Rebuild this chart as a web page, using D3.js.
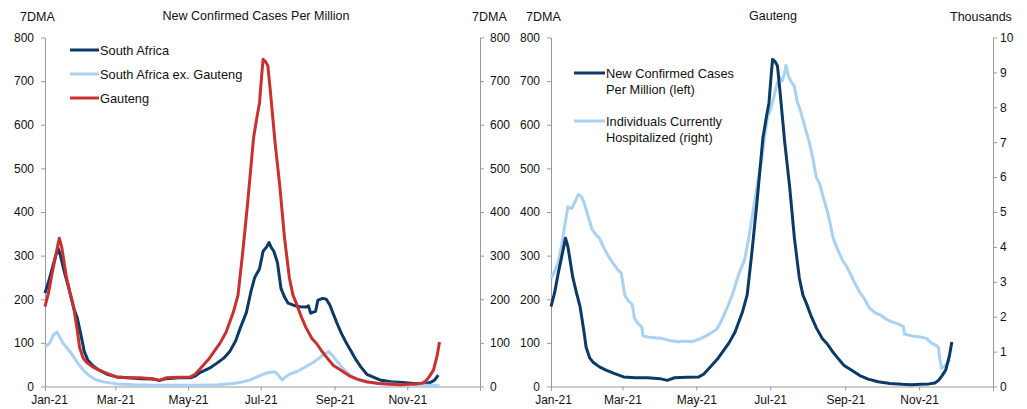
<!DOCTYPE html>
<html><head><meta charset="utf-8">
<script src="https://cdn.jsdelivr.net/npm/d3@7"></script>
<style>
body{margin:0;background:#fff;}
svg text{font-family:"Liberation Sans",Arial,sans-serif;font-size:12px;fill:#111;}
</style></head><body>
<svg id="c" width="1027" height="409"></svg>
<script>
// ---- data (day offset from 2021-01-01, value) ----
const gautengDays = [0,3,6,9,12,14,18,21,24,27,29,32,35,40,45,52,60,70,80,90,96,102,112,122,126,130,138,147,152,158,162,166,170,175,178,180,182,183,185,187,189,190,193,197,201,205,208,211,215,219,224,228,232,236,242,248,255,262,270,280,290,298,305,312,317,320,323,326,329,331];
const gautengCases = [183,215,260,300,340,320,250,215,183,130,90,65,55,45,38,30,22,20,20,18,14,20,21,22,28,40,65,100,125,170,210,310,420,570,620,650,720,750,745,735,680,650,560,460,340,250,210,190,160,135,110,98,82,68,48,38,25,17,11,7,5,4,5,6,8,14,25,38,70,102];

const saDays = [0,3,6,9,11,13,16,20,24,27,30,33,36,40,45,52,60,70,80,90,96,102,112,122,126,130,138,144,150,155,160,164,169,173,176,180,183,186,188,190,192,195,198,201,204,210,214,219,221,223,227,229,233,236,239,245,249,253,257,261,265,270,275,281,290,300,309,315,320,324,327,330];
const saCases = [214,240,270,300,317,300,265,225,180,158,120,80,60,48,38,28,22,20,18,17,14,18,20,20,24,32,42,53,65,80,105,135,170,220,250,270,310,320,330,318,310,285,225,205,191,185,183,182,185,168,172,198,202,200,187,145,120,99,80,61,45,28,22,15,11,9,7,6,7,10,15,26];

const exGpDays = [0,2,4,7,10,12,15,18,21,24,28,32,37,43,50,60,75,90,110,130,145,158,165,172,178,183,188,193,196,199,202,205,212,219,225,230,234,238,241,245,250,255,259,265,270,280,295,310,320,331];
const exGpCases = [91,95,100,118,125,115,100,90,80,68,52,38,25,15,10,6,4,3,3,3,4,7,10,15,22,28,32,34,25,15,22,28,35,46,55,65,74,80,72,58,42,28,19,13,10,7,5,4,3,2];

const hospDays = [0,3,6,9,12,14,17,20,22.5,25,27,30,34,37,40,44,48,51,55,58,61,64,67,69,72,75,76,80,85,91,98,105,110,116,120,124,128,133,137,141,146,150,153,156,160,163,167,171,174,177,179,181,184,187,189,191,193,194,196,198,201,203,206,210,214,217,219,222,225,228,231,233,237,241,244,247,251,255,259,263,268,272,276,280,286,291,292,298,305,310,314,318,320,321,322.5,325,327,329.5];
const hospThousands = [3.1,3.3,3.55,4.1,4.75,5.15,5.1,5.3,5.5,5.45,5.3,4.95,4.5,4.35,4.25,3.95,3.7,3.55,3.35,3.25,2.6,2.45,2.35,1.95,1.8,1.7,1.45,1.42,1.4,1.38,1.32,1.28,1.3,1.28,1.33,1.38,1.45,1.55,1.65,1.9,2.3,2.65,3.0,3.3,3.65,4.2,5.05,5.9,6.5,7.3,7.75,7.9,8.3,8.7,8.85,8.75,9.0,9.2,8.9,8.75,8.6,8.2,7.9,7.4,6.9,6.4,6.0,5.8,5.4,5.05,4.6,4.25,3.9,3.6,3.45,3.25,2.95,2.7,2.5,2.25,2.1,2.05,1.95,1.87,1.8,1.72,1.5,1.45,1.42,1.38,1.25,1.18,1.12,0.8,0.52,0.58,0.66,0.78];

const casesTicks = [0,100,200,300,400,500,600,700,800];
const thousandTicks = [0,1,2,3,4,5,6,7,8,9,10];
const leftSeriesNames = ["South Africa","South Africa ex. Gauteng","Gauteng"];
const rightSeriesNames = [["New Confirmed Cases","Per Million (left)"],["Individuals Currently","Hospitalized (right)"]];

const NAVY = "#0b3a66", LIGHT = "#a9d1f2", RED = "#c8312f", AXIS = "#999";
const start = new Date(2021,0,1), end = new Date(2022,0,1);
const toSeries = (days, vals) => days.map((d,i)=>({date:new Date(start.getTime()+d*86400000), v:vals[i]}));

const svg = d3.select("#c");
const fmt = d3.timeFormat("%b-%y");
const monthTicks = d3.timeMonth.every(2).range(start, d3.timeDay.offset(end,1));

function panel(x0, x1, y0, y1){
  const x = d3.scaleTime().domain([start,end]).range([x0,x1]);
  const y = d3.scaleLinear().domain([0,800]).range([y1,y0]);
  return {x,y};
}
function styleAxis(g){
  g.selectAll("path,line").attr("stroke",AXIS).attr("stroke-width",1);
  g.selectAll("text").attr("fill","#111").style("font-size","12px");
}
function xAxis(p, yb, firstShift){
  const g = svg.append("g").attr("transform",`translate(0,${yb})`)
    .call(d3.axisBottom(p.x).tickValues(monthTicks).tickFormat(d=> d>=end? "" : fmt(d)).tickSizeOuter(0).tickSize(4).tickPadding(5));
  styleAxis(g);
  g.selectAll(".tick text").filter((d,i)=>i===0).attr("dx",firstShift);
}
const lineGen = (x,y)=> d3.line().x(d=>x(d.date)).y(d=>y(d.v)).curve(d3.curveLinear);
const TITLE = "12.5px", LEG = "12.8px";

// ---------- Left panel ----------
const L = panel(45, 480, 37.5, 386.5);
svg.append("g").attr("transform","translate(45,0)")
  .call(d3.axisLeft(L.y).tickValues(casesTicks).tickSize(4).tickPadding(7).tickSizeOuter(0)).call(styleAxis);
svg.append("g").attr("transform","translate(480,0)")
  .call(d3.axisRight(L.y).tickValues(casesTicks).tickSize(4).tickPadding(6).tickSizeOuter(0)).call(styleAxis);
xAxis(L, 386.5, 4);

const lp = lineGen(L.x, L.y);
svg.append("path").datum(toSeries(saDays,saCases)).attr("d",lp).attr("fill","none").attr("stroke",NAVY).attr("stroke-width",3).attr("stroke-linejoin","round");
svg.append("path").datum(toSeries(exGpDays,exGpCases)).attr("d",lp).attr("fill","none").attr("stroke",LIGHT).attr("stroke-width",3).attr("stroke-linejoin","round");
svg.append("path").datum(toSeries(gautengDays,gautengCases)).attr("d",lp).attr("fill","none").attr("stroke",RED).attr("stroke-width",3).attr("stroke-linejoin","round");

svg.append("text").attr("x",20).attr("y",21).style("font-size",TITLE).text("7DMA");
svg.append("text").attr("x",256).attr("y",20).attr("text-anchor","middle").style("font-size",TITLE).text("New Confirmed Cases Per Million");
svg.append("text").attr("x",472).attr("y",21).style("font-size",TITLE).text("7DMA");

const lcol = [NAVY, LIGHT, RED];
leftSeriesNames.forEach((n,i)=>{
  const yy = 50 + i*24;
  svg.append("line").attr("x1",70).attr("x2",99).attr("y1",yy).attr("y2",yy).attr("stroke",lcol[i]).attr("stroke-width",3);
  svg.append("text").attr("x",100).attr("y",yy+4.5).style("font-size",LEG).text(n);
});

// ---------- Right panel ----------
const R = panel(551, 993, 37.5, 386.5);
const yR = d3.scaleLinear().domain([0,10]).range([386.5,37.5]);
svg.append("g").attr("transform","translate(551,0)")
  .call(d3.axisLeft(R.y).tickValues(casesTicks).tickSize(4).tickPadding(7).tickSizeOuter(0)).call(styleAxis);
svg.append("g").attr("transform","translate(993,0)")
  .call(d3.axisRight(yR).tickValues(thousandTicks).tickSize(4).tickPadding(3).tickSizeOuter(0)).call(styleAxis);
xAxis(R, 386.5, 2);

svg.append("path").datum(toSeries(hospDays,hospThousands)).attr("d",lineGen(R.x,yR)).attr("fill","none").attr("stroke",LIGHT).attr("stroke-width",3).attr("stroke-linejoin","round");
svg.append("path").datum(toSeries(gautengDays,gautengCases)).attr("d",lineGen(R.x,R.y)).attr("fill","none").attr("stroke",NAVY).attr("stroke-width",3).attr("stroke-linejoin","round");

svg.append("text").attr("x",526).attr("y",21).style("font-size",TITLE).text("7DMA");
svg.append("text").attr("x",773).attr("y",20).attr("text-anchor","middle").style("font-size",TITLE).text("Gauteng");
svg.append("text").attr("x",950).attr("y",21).style("font-size",TITLE).text("Thousands");

const rcol = [NAVY, LIGHT];
rightSeriesNames.forEach((n,i)=>{
  const yy = 73 + i*48;
  svg.append("line").attr("x1",574).attr("x2",605).attr("y1",yy).attr("y2",yy).attr("stroke",rcol[i]).attr("stroke-width",3);
  n.forEach((t,j)=> svg.append("text").attr("x",606).attr("y",yy+4.5+j*16).style("font-size",LEG).text(t));
});
</script>
</body></html>
